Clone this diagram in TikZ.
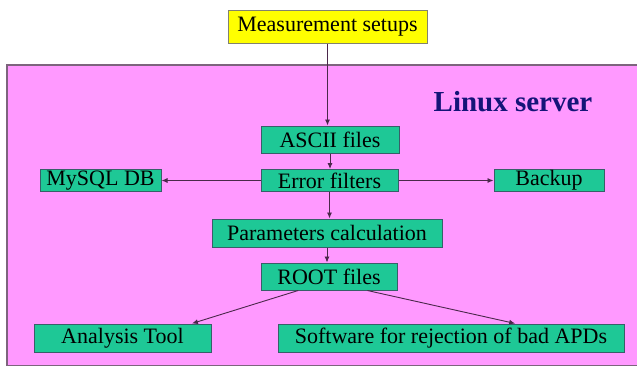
\documentclass[tikz,border=0pt]{standalone}
\usepackage{fontspec}
\setmainfont{Liberation Serif}
\usetikzlibrary{calc,arrows.meta}
\tikzstyle{plan} = [x = 1pt, y = -1pt]
\definecolor{serverPink}{RGB}{255,153,255}
\definecolor{serverEdge}{RGB}{125,100,125}
\definecolor{boxGreen}{RGB}{30,200,150}
\definecolor{boxEdge}{RGB}{55,95,105}
\definecolor{setupYellow}{RGB}{255,255,0}
\definecolor{setupEdge}{RGB}{130,130,110}
\definecolor{titleBlue}{RGB}{20,20,120}
\definecolor{arrowColor}{RGB}{75,40,75}
\tikzstyle{stepBox} = [draw=boxEdge, fill=boxGreen, line width=1pt, inner sep=0pt, text=black, font=\fontsize{22}{24}\selectfont]
\tikzstyle{setupBox} = [stepBox, draw=setupEdge, fill=setupYellow]
\tikzstyle{flowArrow} = [draw=arrowColor, line width=0.9pt, -{Latex[length=6pt,width=5pt]}]
\tikzstyle{serverText} = [text=titleBlue, font=\fontsize{29}{32}\selectfont\bfseries]
\newcommand{\stepNode}[6]{\node [stepBox, minimum width=#4pt, minimum height=#5pt] (#1) at (#2,#3) {#6};}

\begin{document}
\begin{tikzpicture}[plan]
  \useasboundingbox (0,0) rectangle (637,367);
  % the server frame
  \filldraw [fill=serverPink, draw=serverEdge, line width=1.5pt] (7,65) rectangle (650,365.5);
  \node [serverText] (server) at (513,102) {Linux server};

  \node [setupBox, minimum width=199pt, minimum height=33pt] (measure) at (327.5,26.5) {Measurement setups};
  \stepNode{ascii}{330}{139.5}{138}{27}{ASCII files}
  \stepNode{error}{329.5}{180.5}{137}{22}{Error filters}
  \stepNode{mysql}{100.5}{180.5}{121}{22}{MySQL DB}
  \stepNode{backup}{549}{180.5}{110}{22}{Backup}
  \stepNode{params}{327}{233}{230}{28}{Parameters calculation}
  \stepNode{root}{329}{276.5}{136}{27}{ROOT files}
  \stepNode{analysis}{122.5}{338}{177}{28}{Analysis Tool}
  \stepNode{software}{451}{338}{346}{28}{Software for rejection of bad APDs}

  \draw [flowArrow] (measure.south) -- (measure.south |- ascii.north);
  \draw [flowArrow] (ascii.south) -- (ascii.south |- error.north);
  \draw [flowArrow] (error.west) -- (mysql.east);
  \draw [flowArrow] (error.east) -- (backup.west);
  \draw [flowArrow] (error.south) -- (error.south |- params.north);
  \draw [flowArrow] (params.south) -- (params.south |- root.north);
  \draw [flowArrow] ($(root.south)!0.45!(root.south west)$) -- ($(analysis.north)!0.78!(analysis.north east)$);
  \draw [flowArrow] ($(root.south)!0.56!(root.south east)$) -- ($(software.north)!0.37!(software.north east)$);
\end{tikzpicture}
\end{document}
